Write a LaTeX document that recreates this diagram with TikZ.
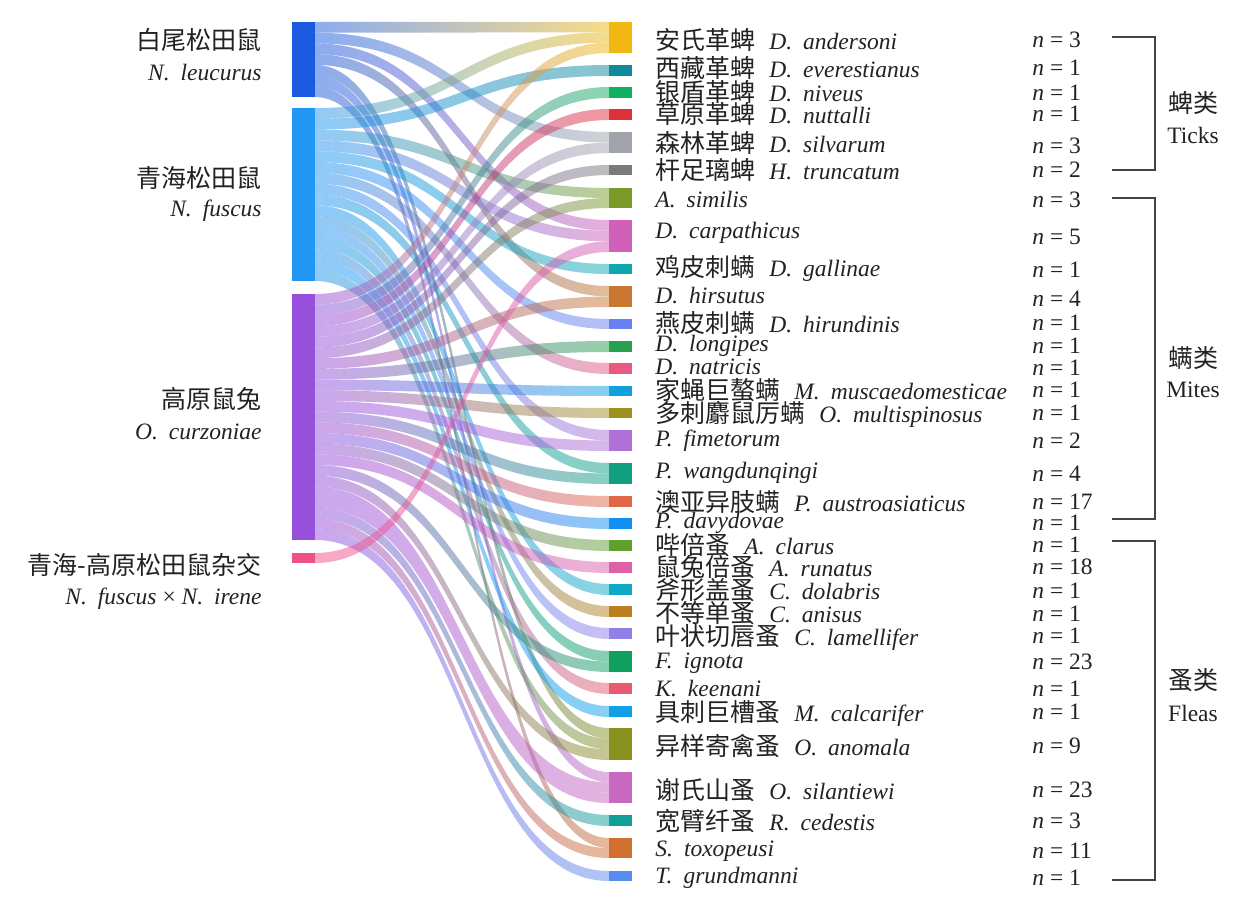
\documentclass[tikz,border=0pt]{standalone}
\usepackage{fontspec}
\setmainfont{Liberation Serif}[Scale=0.94]
\newfontfamily\cjk{Noto Sans CJK SC}
\usetikzlibrary{calc}
\definecolor{cL1}{HTML}{1A5AE0}\definecolor{cL2}{HTML}{2196F3}
\definecolor{cL3}{HTML}{9650DC}\definecolor{cL4}{HTML}{F0508A}
\definecolor{cR1}{HTML}{F0B810}\definecolor{cR2}{HTML}{0E8A9A}
\definecolor{cR3}{HTML}{10B060}\definecolor{cR4}{HTML}{E0303A}
\definecolor{cR5}{HTML}{A0A4AA}\definecolor{cR6}{HTML}{7A7A7A}
\definecolor{cR7}{HTML}{7A9A28}\definecolor{cR8}{HTML}{D060B8}
\definecolor{cR9}{HTML}{10A8B0}\definecolor{cR10}{HTML}{C87830}
\definecolor{cR11}{HTML}{6A80F0}\definecolor{cR12}{HTML}{28A050}
\definecolor{cR13}{HTML}{E85A80}\definecolor{cR14}{HTML}{10A0E0}
\definecolor{cR15}{HTML}{A09020}\definecolor{cR16}{HTML}{B070D8}
\definecolor{cR17}{HTML}{10A080}\definecolor{cR18}{HTML}{E06848}
\definecolor{cR19}{HTML}{1090F0}\definecolor{cR20}{HTML}{60A030}
\definecolor{cR21}{HTML}{E060A8}\definecolor{cR22}{HTML}{10A8C8}
\definecolor{cR23}{HTML}{B88020}\definecolor{cR24}{HTML}{9080E8}
\definecolor{cR25}{HTML}{10A060}\definecolor{cR26}{HTML}{E85A70}
\definecolor{cR27}{HTML}{10A0E8}\definecolor{cR28}{HTML}{889020}
\definecolor{cR29}{HTML}{C868C0}\definecolor{cR30}{HTML}{10A098}
\definecolor{cR31}{HTML}{D07030}\definecolor{cR32}{HTML}{5A8CF0}
\definecolor{ink}{HTML}{222222}
% node: name, x-left, top, bottom
\newcommand\nd[4]{\node[nbox,fill=c#1,minimum height={(#4-#3)*0.5pt},anchor=north west] (#1) at (#2,#3) {};}
% link: source, slot, slots, target, slot, slots
\newcommand\lnk[6]{\shade[link,left color=c#1,right color=c#4]
 ($(#1.north east)!{#2/#3}!(#1.south east)$) .. controls +(147,0) and +(-147,0) ..
 ($(#4.north west)!{#5/#6}!(#4.south west)$) --
 ($(#4.north west)!{(#5+1)/#6}!(#4.south west)$) .. controls +(-147,0) and +(147,0) ..
 ($(#1.north east)!{(#2+1)/#3}!(#1.south east)$) -- cycle;}
\newcommand\tx[3]{{\cjk #1}\hspace{7pt}\textit{#2}\hspace{5.5pt}\textit{#3}}
\newcommand\tl[2]{\textit{#1}\hspace{5.5pt}\textit{#2}}
\newcommand\nn[1]{\textit{n} = #1}
\begin{document}
\begin{tikzpicture}[x=0.5pt,y=-0.5pt,
  nbox/.style={rectangle,draw=none,inner sep=0,outer sep=0,minimum width=11.5pt},
  link/.style={opacity=0.5},
  lab/.style={inner sep=0,text=ink,font=\fontsize{12.5}{15}\selectfont},
  cl/.style={lab,text height=9.8pt,text depth=0pt},
  brk/.style={draw=ink!85,line width=0.7pt}]
\useasboundingbox (0,0) rectangle (1258,898);
% source nodes
\nd{L1}{292}{22}{97}
\nd{L2}{292}{108}{281}
\nd{L3}{292}{294}{540}
\nd{L4}{292}{553}{563}
% target nodes
\nd{R1}{609}{22}{53}
\nd{R2}{609}{65}{76}
\nd{R3}{609}{87}{98}
\nd{R4}{609}{109}{120}
\nd{R5}{609}{132}{153}
\nd{R6}{609}{165}{175}
\nd{R7}{609}{188}{208}
\nd{R8}{609}{220}{252}
\nd{R9}{609}{264}{274}
\nd{R10}{609}{286}{307}
\nd{R11}{609}{319}{329}
\nd{R12}{609}{341}{352}
\nd{R13}{609}{363}{374}
\nd{R14}{609}{386}{396}
\nd{R15}{609}{408}{418}
\nd{R16}{609}{430}{451}
\nd{R17}{609}{463}{484}
\nd{R18}{609}{496}{507}
\nd{R19}{609}{518}{529}
\nd{R20}{609}{540}{551}
\nd{R21}{609}{562}{573}
\nd{R22}{609}{584}{595}
\nd{R23}{609}{606}{617}
\nd{R24}{609}{628}{639}
\nd{R25}{609}{651}{672}
\nd{R26}{609}{683}{694}
\nd{R27}{609}{706}{717}
\nd{R28}{609}{728}{760}
\nd{R29}{609}{772}{803}
\nd{R30}{609}{815}{826}
\nd{R31}{609}{838}{858}
\nd{R32}{609}{871}{881}
% links from L1
\lnk{L1}{0}{7}{R1}{0}{3}
\lnk{L1}{1}{7}{R5}{0}{2}
\lnk{L1}{2}{7}{R8}{0}{3}
\lnk{L1}{3}{7}{R10}{0}{2}
\lnk{L1}{4}{7}{R28}{0}{3}
\lnk{L1}{5}{7}{R29}{0}{3}
\lnk{L1}{6}{7}{R31}{0}{2}
% links from L2
\lnk{L2}{0}{16}{R1}{1}{3}
\lnk{L2}{1}{16}{R2}{0}{1}
\lnk{L2}{2}{16}{R7}{0}{2}
\lnk{L2}{3}{16}{R8}{1}{3}
\lnk{L2}{4}{16}{R9}{0}{1}
\lnk{L2}{5}{16}{R11}{0}{1}
\lnk{L2}{6}{16}{R13}{0}{1}
\lnk{L2}{7}{16}{R16}{0}{2}
\lnk{L2}{8}{16}{R17}{0}{2}
\lnk{L2}{9}{16}{R22}{0}{1}
\lnk{L2}{10}{16}{R23}{0}{1}
\lnk{L2}{11}{16}{R24}{0}{1}
\lnk{L2}{12}{16}{R25}{0}{2}
\lnk{L2}{13}{16}{R26}{0}{1}
\lnk{L2}{14}{16}{R27}{0}{1}
\lnk{L2}{15}{16}{R28}{1}{3}
% links from L3
\lnk{L3}{0}{23}{R1}{2}{3}
\lnk{L3}{1}{23}{R3}{0}{1}
\lnk{L3}{2}{23}{R4}{0}{1}
\lnk{L3}{3}{23}{R5}{1}{2}
\lnk{L3}{4}{23}{R6}{0}{1}
\lnk{L3}{5}{23}{R7}{1}{2}
\lnk{L3}{6}{23}{R10}{1}{2}
\lnk{L3}{7}{23}{R12}{0}{1}
\lnk{L3}{8}{23}{R14}{0}{1}
\lnk{L3}{9}{23}{R15}{0}{1}
\lnk{L3}{10}{23}{R16}{1}{2}
\lnk{L3}{11}{23}{R17}{1}{2}
\lnk{L3}{12}{23}{R18}{0}{1}
\lnk{L3}{13}{23}{R19}{0}{1}
\lnk{L3}{14}{23}{R20}{0}{1}
\lnk{L3}{15}{23}{R21}{0}{1}
\lnk{L3}{16}{23}{R25}{1}{2}
\lnk{L3}{17}{23}{R28}{2}{3}
\lnk{L3}{18}{23}{R29}{1}{3}
\lnk{L3}{19}{23}{R29}{2}{3}
\lnk{L3}{20}{23}{R30}{0}{1}
\lnk{L3}{21}{23}{R31}{1}{2}
\lnk{L3}{22}{23}{R32}{0}{1}
% link from L4
\lnk{L4}{0}{1}{R8}{2}{3}
% source labels
\node[cl,anchor=east] (s1a) at (262,40) {\cjk 白尾松田鼠};
\node[lab,anchor=east] (s1b) at (262,73) {\tl{N.}{leucurus}};
\node[cl,anchor=east] (s2a) at (262,178) {\cjk 青海松田鼠};
\node[lab,anchor=east] (s2b) at (262,211) {\tl{N.}{fuscus}};
\node[cl,anchor=east] (s3a) at (262,399) {\cjk 高原鼠兔};
\node[lab,anchor=east] (s3b) at (262,432) {\tl{O.}{curzoniae}};
\node[cl,anchor=east] (s4a) at (262,565) {\cjk 青海-高原松田鼠杂交};
\node[lab,anchor=east] (s4b) at (262,599) {\tl{N.}{fuscus} × \tl{N.}{irene}};
% target labels
\node[cl,anchor=west] (t1) at (655,40) {\tx{安氏革蜱}{D.}{andersoni}};
\node[cl,anchor=west] (t2) at (655,68) {\tx{西藏革蜱}{D.}{everestianus}};
\node[cl,anchor=west] (t3) at (655,92) {\tx{银盾革蜱}{D.}{niveus}};
\node[cl,anchor=west] (t4) at (655,114) {\tx{草原革蜱}{D.}{nuttalli}};
\node[cl,anchor=west] (t5) at (655,143) {\tx{森林革蜱}{D.}{silvarum}};
\node[cl,anchor=west] (t6) at (655,170) {\tx{杆足璃蜱}{H.}{truncatum}};
\node[lab,anchor=west] (t7) at (655,200) {\tl{A.}{similis}};
\node[lab,anchor=west] (t8) at (655,233) {\tl{D.}{carpathicus}};
\node[cl,anchor=west] (t9) at (655,267) {\tx{鸡皮刺螨}{D.}{gallinae}};
\node[lab,anchor=west] (t10) at (655,296) {\tl{D.}{hirsutus}};
\node[cl,anchor=west] (t11) at (655,323) {\tx{燕皮刺螨}{D.}{hirundinis}};
\node[lab,anchor=west] (t12) at (655,346) {\tl{D.}{longipes}};
\node[lab,anchor=west] (t13) at (655,367) {\tl{D.}{natricis}};
\node[cl,anchor=west] (t14) at (655,390) {\tx{家蝇巨螯螨}{M.}{muscaedomesticae}};
\node[cl,anchor=west] (t15) at (655,413) {\tx{多刺麝鼠厉螨}{O.}{multispinosus}};
\node[lab,anchor=west] (t16) at (655,441) {\tl{P.}{fimetorum}};
\node[lab,anchor=west] (t17) at (655,473) {\tl{P.}{wangdunqingi}};
\node[cl,anchor=west] (t18) at (655,502) {\tx{澳亚异肢螨}{P.}{austroasiaticus}};
\node[lab,anchor=west] (t19) at (655,523) {\tl{P.}{davydovae}};
\node[cl,anchor=west] (t20) at (655,545) {\tx{哔倍蚤}{A.}{clarus}};
\node[cl,anchor=west] (t21) at (655,567) {\tx{鼠兔倍蚤}{A.}{runatus}};
\node[cl,anchor=west] (t22) at (655,590) {\tx{斧形盖蚤}{C.}{dolabris}};
\node[cl,anchor=west] (t23) at (655,613) {\tx{不等单蚤}{C.}{anisus}};
\node[cl,anchor=west] (t24) at (655,636) {\tx{叶状切唇蚤}{C.}{lamellifer}};
\node[lab,anchor=west] (t25) at (655,663) {\tl{F.}{ignota}};
\node[lab,anchor=west] (t26) at (655,689) {\tl{K.}{keenani}};
\node[cl,anchor=west] (t27) at (655,712) {\tx{具刺巨槽蚤}{M.}{calcarifer}};
\node[cl,anchor=west] (t28) at (655,746) {\tx{异样寄禽蚤}{O.}{anomala}};
\node[cl,anchor=west] (t29) at (655,790) {\tx{谢氏山蚤}{O.}{silantiewi}};
\node[cl,anchor=west] (t30) at (655,821) {\tx{宽臂纤蚤}{R.}{cedestis}};
\node[lab,anchor=west] (t31) at (655,851) {\tl{S.}{toxopeusi}};
\node[lab,anchor=west] (t32) at (655,878) {\tl{T.}{grundmanni}};
% counts
\node[lab,anchor=west] (n1) at (1032,40) {\nn{3}};
\node[lab,anchor=west] (n2) at (1032,68) {\nn{1}};
\node[lab,anchor=west] (n3) at (1032,93) {\nn{1}};
\node[lab,anchor=west] (n4) at (1032,114) {\nn{1}};
\node[lab,anchor=west] (n5) at (1032,146) {\nn{3}};
\node[lab,anchor=west] (n6) at (1032,170) {\nn{2}};
\node[lab,anchor=west] (n7) at (1032,200) {\nn{3}};
\node[lab,anchor=west] (n8) at (1032,237) {\nn{5}};
\node[lab,anchor=west] (n9) at (1032,270) {\nn{1}};
\node[lab,anchor=west] (n10) at (1032,299) {\nn{4}};
\node[lab,anchor=west] (n11) at (1032,323) {\nn{1}};
\node[lab,anchor=west] (n12) at (1032,346) {\nn{1}};
\node[lab,anchor=west] (n13) at (1032,368) {\nn{1}};
\node[lab,anchor=west] (n14) at (1032,390) {\nn{1}};
\node[lab,anchor=west] (n15) at (1032,413) {\nn{1}};
\node[lab,anchor=west] (n16) at (1032,441) {\nn{2}};
\node[lab,anchor=west] (n17) at (1032,474) {\nn{4}};
\node[lab,anchor=west] (n18) at (1032,502) {\nn{17}};
\node[lab,anchor=west] (n19) at (1032,523) {\nn{1}};
\node[lab,anchor=west] (n20) at (1032,545) {\nn{1}};
\node[lab,anchor=west] (n21) at (1032,567) {\nn{18}};
\node[lab,anchor=west] (n22) at (1032,591) {\nn{1}};
\node[lab,anchor=west] (n23) at (1032,614) {\nn{1}};
\node[lab,anchor=west] (n24) at (1032,636) {\nn{1}};
\node[lab,anchor=west] (n25) at (1032,662) {\nn{23}};
\node[lab,anchor=west] (n26) at (1032,689) {\nn{1}};
\node[lab,anchor=west] (n27) at (1032,712) {\nn{1}};
\node[lab,anchor=west] (n28) at (1032,746) {\nn{9}};
\node[lab,anchor=west] (n29) at (1032,790) {\nn{23}};
\node[lab,anchor=west] (n30) at (1032,821) {\nn{3}};
\node[lab,anchor=west] (n31) at (1032,851) {\nn{11}};
\node[lab,anchor=west] (n32) at (1032,878) {\nn{1}};
% group brackets
\draw[brk] (1112,37) -- (1155,37) -- (1155,170) -- (1112,170);
\draw[brk] (1112,198) -- (1155,198) -- (1155,519) -- (1112,519);
\draw[brk] (1112,541) -- (1155,541) -- (1155,880) -- (1112,880);
\node[cl] (g1a) at (1193,103) {\cjk 蜱类};
\node[lab] (g1b) at (1193,135) {Ticks};
\node[cl] (g2a) at (1193,358) {\cjk 螨类};
\node[lab] (g2b) at (1193,390) {Mites};
\node[cl] (g3a) at (1193,680) {\cjk 蚤类};
\node[lab] (g3b) at (1193,713) {Fleas};
\end{tikzpicture}
\end{document}
